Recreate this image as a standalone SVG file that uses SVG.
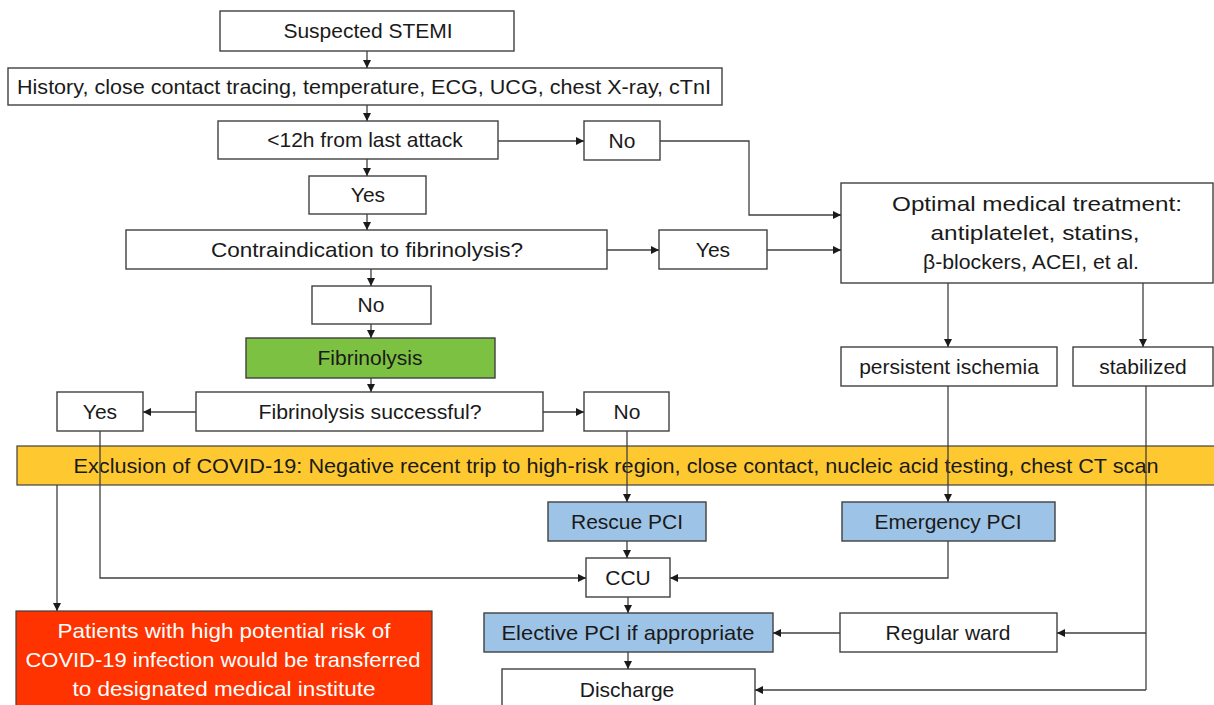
<svg xmlns="http://www.w3.org/2000/svg" width="1214" height="705" viewBox="0 0 1214 705">
<style>
.b{fill:#fff;stroke:#404040;stroke-width:1.4}
.g{fill:#7dc142;stroke:#404040;stroke-width:1.4}
.bl{fill:#9dc3e6;stroke:#404040;stroke-width:1.4}
.y{fill:#fec930;stroke:#404040;stroke-width:1.2}
.r{fill:#fe3300;stroke:#404040;stroke-width:1.2}
text{font-family:"Liberation Sans",Arial,sans-serif;font-size:21px;fill:#1a1a1a;text-anchor:middle}
.w{fill:#fff}
.c{fill:none;stroke:#404040;stroke-width:1.3}
</style>
<defs>
<marker id="a" viewBox="0 0 10 10" refX="10" refY="5" markerWidth="8" markerHeight="8" markerUnits="userSpaceOnUse" orient="auto">
<path d="M0,0L10,5L0,10z" fill="#1a1a1a"/>
</marker>
</defs>
<g id="band"><rect class="y" x="17" y="446" width="1200" height="39"/><text x="616" y="473" textLength="1085" lengthAdjust="spacingAndGlyphs">Exclusion of COVID-19: Negative recent trip to high-risk region, close contact, nucleic acid testing, chest CT scan</text></g>
<g id="n1"><rect class="b" x="220" y="11" width="294" height="40"/><text x="368" y="38">Suspected STEMI</text></g>
<g id="n2"><rect class="b" x="8" y="68" width="714" height="37"/><text x="364" y="94" textLength="694" lengthAdjust="spacingAndGlyphs">History, close contact tracing, temperature, ECG, UCG, chest X-ray, cTnI</text></g>
<g id="n3"><rect class="b" x="218" y="121" width="280" height="38"/><text x="365" y="147">&lt;12h from last attack</text></g>
<g id="n4"><rect class="b" x="584" y="121" width="76" height="39"/><text x="622" y="148">No</text></g>
<g id="n5"><rect class="b" x="309" y="176" width="117" height="38"/><text x="368" y="202">Yes</text></g>
<g id="n6"><rect class="b" x="126" y="230" width="481" height="39"/><text x="367" y="257" textLength="312" lengthAdjust="spacingAndGlyphs">Contraindication to fibrinolysis?</text></g>
<g id="n7"><rect class="b" x="659" y="230" width="108" height="39"/><text x="713" y="257">Yes</text></g>
<g id="n8"><rect class="b" x="841" y="183" width="372" height="100"/><text x="1037" y="211" textLength="290" lengthAdjust="spacingAndGlyphs">Optimal medical treatment:</text><text x="1035" y="240" textLength="209" lengthAdjust="spacingAndGlyphs">antiplatelet, statins,</text><text x="1031" y="269" textLength="216" lengthAdjust="spacingAndGlyphs">β-blockers, ACEI, et al.</text></g>
<g id="n9"><rect class="b" x="312" y="286" width="119" height="38"/><text x="371" y="312">No</text></g>
<g id="n10"><rect class="g" x="246" y="338" width="249" height="40"/><text x="370" y="365">Fibrinolysis</text></g>
<g id="n11"><rect class="b" x="841" y="347" width="216" height="39"/><text x="949" y="374">persistent ischemia</text></g>
<g id="n12"><rect class="b" x="1073" y="347" width="140" height="39"/><text x="1143" y="374">stabilized</text></g>
<g id="n13"><rect class="b" x="196" y="392" width="347" height="39"/><text x="370" y="419" textLength="223" lengthAdjust="spacingAndGlyphs">Fibrinolysis successful?</text></g>
<g id="n14"><rect class="b" x="57" y="392" width="86" height="39"/><text x="100" y="419">Yes</text></g>
<g id="n15"><rect class="b" x="584" y="392" width="85" height="39"/><text x="627" y="419">No</text></g>
<g id="n16"><rect class="bl" x="548" y="502" width="158" height="39"/><text x="627" y="529">Rescue PCI</text></g>
<g id="n17"><rect class="bl" x="842" y="502" width="213" height="39"/><text x="948" y="529">Emergency PCI</text></g>
<g id="n18"><rect class="b" x="586" y="558" width="84" height="39"/><text x="628" y="585">CCU</text></g>
<g id="n19"><rect class="bl" x="484" y="613" width="289" height="39"/><text x="628" y="640" textLength="253" lengthAdjust="spacingAndGlyphs">Elective PCI if appropriate</text></g>
<g id="n20"><rect class="b" x="840" y="613" width="217" height="39"/><text x="948" y="640">Regular ward</text></g>
<g id="n21"><rect class="b" x="502" y="669" width="253" height="45"/><text x="627" y="697">Discharge</text></g>
<g id="n22"><rect class="r" x="16" y="611" width="416" height="100"/><text class="w" x="224" y="638" textLength="333" lengthAdjust="spacingAndGlyphs">Patients with high potential risk of</text><text class="w" x="223" y="667" textLength="395" lengthAdjust="spacingAndGlyphs">COVID-19 infection would be transferred</text><text class="w" x="224" y="696" textLength="303" lengthAdjust="spacingAndGlyphs">to designated medical institute</text></g>
<g id="connectors">
<path class="c" marker-end="url(#a)" d="M367,51V68"/>
<path class="c" marker-end="url(#a)" d="M367,105V121"/>
<path class="c" marker-end="url(#a)" d="M498,141H584"/>
<path class="c" marker-end="url(#a)" d="M367,159V176"/>
<path class="c" marker-end="url(#a)" d="M367,214V230"/>
<path class="c" marker-end="url(#a)" d="M660,141H749V215H841"/>
<path class="c" marker-end="url(#a)" d="M607,250H659"/>
<path class="c" marker-end="url(#a)" d="M767,250H841"/>
<path class="c" marker-end="url(#a)" d="M371,269V286"/>
<path class="c" marker-end="url(#a)" d="M371,324V338"/>
<path class="c" marker-end="url(#a)" d="M371,378V392"/>
<path class="c" marker-end="url(#a)" d="M948,283V347"/>
<path class="c" marker-end="url(#a)" d="M1143,283V347"/>
<path class="c" marker-end="url(#a)" d="M196,412H143"/>
<path class="c" marker-end="url(#a)" d="M543,412H584"/>
<path class="c" marker-end="url(#a)" d="M627,431V502"/>
<path class="c" marker-end="url(#a)" d="M948,386V502"/>
<path class="c" marker-end="url(#a)" d="M100,431V578H586"/>
<path class="c" marker-end="url(#a)" d="M57,485V611"/>
<path class="c" marker-end="url(#a)" d="M627,541V558"/>
<path class="c" marker-end="url(#a)" d="M948,541V578H670"/>
<path class="c" marker-end="url(#a)" d="M628,597V613"/>
<path class="c" marker-end="url(#a)" d="M840,633H773"/>
<path class="c" marker-end="url(#a)" d="M628,652V669"/>
<path class="c" d="M1146,386V690"/>
<path class="c" marker-end="url(#a)" d="M1146,633H1057"/>
<path class="c" marker-end="url(#a)" d="M1146,690H755"/>
</g>
</svg>
